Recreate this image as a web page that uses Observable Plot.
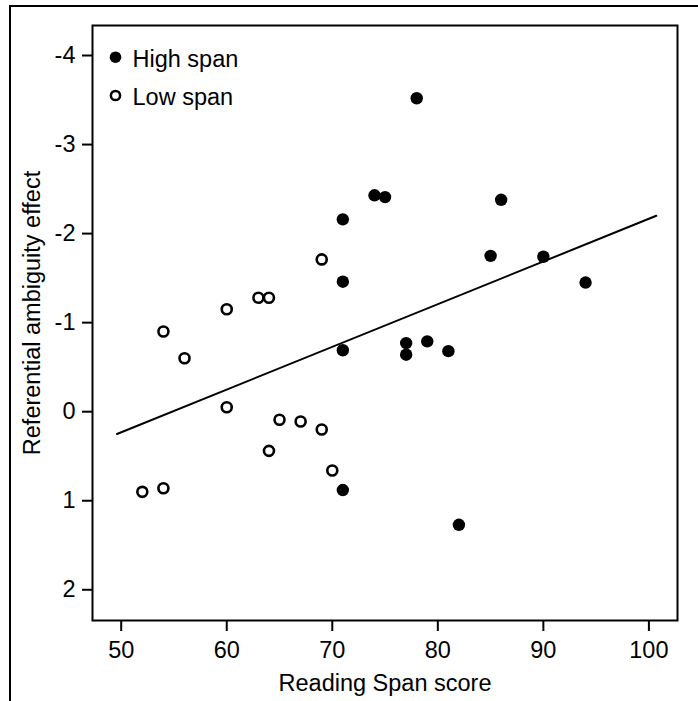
<!DOCTYPE html>
<html>
<head>
<meta charset="utf-8">
<script src="https://cdn.jsdelivr.net/npm/d3@7"></script>
<script src="https://cdn.jsdelivr.net/npm/@observablehq/plot@0.6"></script>
<style>
  html, body { margin: 0; padding: 0; background: #fff; overflow: hidden; }
  #wrap { position: relative; width: 698px; height: 701px; }
  #outer { position: absolute; left: 9px; top: 5px; width: 720px; height: 720px;
           border-left: 2px solid #000; border-top: 2px solid #000; pointer-events: none; }
  #chart svg { display: block; }
</style>
</head>
<body>
<div id="wrap">
  <div id="chart"></div>
  <div id="outer"></div>
</div>
<script>
// High span participants (filled circles)
const highSpanScore  = [71, 71, 78, 74, 75, 86, 85, 90, 94, 77, 77, 79, 81, 82, 71, 71];
const highSpanEffect = [-2.16, -1.46, -3.52, -2.43, -2.41, -2.38, -1.75, -1.74, -1.45, -0.77, -0.64, -0.79, -0.68, 1.27, -0.69, 0.88];

// Low span participants (open circles)
const lowSpanScore  = [69, 63, 64, 60, 54, 56, 60, 65, 67, 69, 64, 70, 52, 54];
const lowSpanEffect = [-1.71, -1.28, -1.28, -1.15, -0.90, -0.60, -0.05, 0.09, 0.11, 0.20, 0.44, 0.66, 0.90, 0.86];

// Regression line endpoints
const fitScore  = [49.6, 100.7];
const fitEffect = [0.25, -2.20];

const xTicks = [50, 60, 70, 80, 90, 100];
const yTicks = [-4, -3, -2, -1, 0, 1, 2];
const legendLabels = ["High span", "Low span"];

const high = highSpanScore.map((s, i) => ({score: s, effect: highSpanEffect[i]}));
const low  = lowSpanScore.map((s, i) => ({score: s, effect: lowSpanEffect[i]}));
const fit  = fitScore.map((s, i) => ({score: s, effect: fitEffect[i]}));

const FONT = "Liberation Sans, Arial, Helvetica, sans-serif";
const FS = 23.5;

const chart = Plot.plot({
  width: 698,
  height: 701,
  marginLeft: 92,
  marginTop: 25,
  marginRight: 21,
  marginBottom: 81,
  style: {fontFamily: FONT, fontSize: FS + "px", background: "#fff", color: "#000"},
  x: {domain: [47.28, 102.71]},
  y: {domain: [-4.337, 2.345], reverse: true},
  marks: [
    Plot.frame({stroke: "#000", strokeWidth: 2}),
    Plot.axisX({ticks: xTicks, tickSize: 11, tickPadding: 10, strokeWidth: 2,
                fontSize: FS, label: null, tickFormat: d => String(d)}),
    Plot.axisY({ticks: yTicks, tickSize: 10, tickPadding: 7, strokeWidth: 2,
                fontSize: FS, label: null, tickFormat: d => String(d)}),
    Plot.text(["Reading Span score"], {frameAnchor: "bottom", dy: 62.6, text: d => d,
                textAnchor: "middle", lineAnchor: "middle", fontSize: FS, fill: "#000"}),
    Plot.text(["Referential ambiguity effect"], {frameAnchor: "left", dx: -60, dy: -10,
                rotate: -90, textAnchor: "middle", lineAnchor: "middle",
                text: d => d, fontSize: FS, fill: "#000"}),
    Plot.line(fit, {x: "score", y: "effect", stroke: "#000", strokeWidth: 2}),
    Plot.dot(low, {x: "score", y: "effect", r: 5, fill: "#fff", stroke: "#000", strokeWidth: 2.6}),
    Plot.dot(high, {x: "score", y: "effect", r: 6.2, fill: "#000", stroke: "none"}),
    // legend
    Plot.dot([legendLabels[0]], {frameAnchor: "top-left", dx: 23, dy: 31.7, r: 5.8, fill: "#000", stroke: "none"}),
    Plot.dot([legendLabels[1]], {frameAnchor: "top-left", dx: 23, dy: 70, r: 4.6, fill: "#fff", stroke: "#000", strokeWidth: 2.5}),
    Plot.text([legendLabels[0]], {frameAnchor: "top-left", dx: 40, dy: 33.6, text: d => d,
                textAnchor: "start", lineAnchor: "middle", fontSize: FS, fill: "#000"}),
    Plot.text([legendLabels[1]], {frameAnchor: "top-left", dx: 40, dy: 71.6, text: d => d,
                textAnchor: "start", lineAnchor: "middle", fontSize: FS, fill: "#000"})
  ]
});
document.getElementById("chart").appendChild(chart);
</script>
</body>
</html>
